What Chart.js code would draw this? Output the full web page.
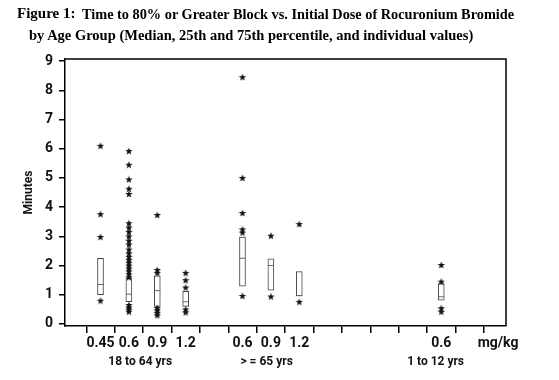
<!DOCTYPE html>
<html>
<head>
<meta charset="utf-8">
<script src="https://cdn.jsdelivr.net/npm/chart.js@4.4.1/dist/chart.umd.min.js"></script>
<style>
  body { margin: 0; background: #fff; }
  #wrap { position: relative; width: 559px; height: 380px; }
  #chart { position: absolute; left: 0; top: 0; }
  .title { position: absolute; font-family: 'Liberation Serif', 'Times New Roman', serif; font-weight: bold; font-size: 14.5px; line-height: 14px; white-space: nowrap; color: #000; }
</style>
</head>
<body>
<div id="wrap">
  <canvas id="chart" width="559" height="380"></canvas>
  <div class="title" style="left:17px; top:6px; font-size:15px;">Figure 1:</div>
  <div class="title" style="left:82px; top:7px; font-size:14.3px;">Time to 80% or Greater Block vs. Initial Dose of Rocuronium Bromide</div>
  <div class="title" style="left:29px; top:28px;">by Age Group (Median, 25th and 75th percentile, and individual values)</div>
</div>
<script>
// x axis: one tick per slot, labels only under the doses
const tickLabels = ['', '0.45', '0.6', '0.9', '1.2', '', '0.6', '0.9', '1.2', '', '', '', '', '0.6', '', 'mg/kg'];
const groupLabels = ['18 to 64 yrs', '> = 65 yrs', '1 to 12 yrs'];
const groupCenters = [2.4, 6.85, 12.8];
const yTicks = [0, 1, 2, 3, 4, 5, 6, 7, 8, 9];

// boxes (25th, median, 75th percentile), minutes
const boxX = [1, 2, 3, 4, 6, 7, 8, 13];
const q1 = [1.0, 0.76, 0.6, 0.6, 1.29, 1.16, 0.96, 0.81];
const median = [1.35, 1.02, 1.14, 0.76, 2.25, 2.0, 0.97, 0.93];
const q3 = [2.25, 1.57, 1.65, 1.12, 2.97, 2.23, 1.79, 1.38];

// individual values shown as stars
const individuals = [
  [6.1, 3.76, 2.98, 0.8],
  [5.92, 5.45, 4.95, 4.63, 4.45, 3.45, 3.3, 3.15, 3.0, 2.85, 2.72, 2.55, 2.42, 2.3, 2.2, 2.1, 2.0, 1.9, 1.8, 1.7, 1.6, 0.65, 0.57, 0.5, 0.42],
  [3.73, 1.85, 1.75, 0.55, 0.47, 0.38, 0.3],
  [1.75, 1.5, 1.25, 0.5, 0.4],
  [8.45, 5.0, 3.8, 3.24, 3.13, 0.96],
  [3.02, 0.94],
  [3.42, 0.76],
  [2.02, 1.45, 0.54, 0.42]
];

// filled five point star used as the point marker
const starImg = document.createElement('canvas');
starImg.width = 8;
starImg.height = 8;
(function() {
    const c = starImg.getContext('2d');
    c.fillStyle = '#111';
    c.beginPath();
    for (let i = 0; i < 10; i++) {
        const r = i % 2 === 0 ? 3.9 : 1.6;
        const a = -Math.PI / 2 + i * Math.PI / 5;
        const px = 4 + r * Math.cos(a);
        const py = 4.3 + r * Math.sin(a);
        if (i === 0) c.moveTo(px, py); else c.lineTo(px, py);
    }
    c.closePath();
    c.fill();
})();

const frame = {
    id: 'frame',
    afterDraw(chart) {
        const { ctx, chartArea: a } = chart;
        ctx.save();
        ctx.strokeStyle = '#000';
        ctx.lineWidth = 1.5;
        ctx.beginPath();
        ctx.moveTo(a.left, a.top);
        ctx.lineTo(a.right, a.top);
        ctx.lineTo(a.right, a.bottom);
        ctx.stroke();
        ctx.restore();
    }
};

Chart.defaults.font.family = "Roboto, 'Liberation Sans', sans-serif";
Chart.defaults.font.weight = 'bold';
Chart.defaults.font.size = 14;
Chart.defaults.color = '#111';

const xMin = -0.25, xMax = 15.28;

new Chart(document.getElementById('chart'), {
    type: 'bar',
    data: {
        datasets: [
            {
                type: 'scatter',
                label: 'Individual',
                data: individuals.flatMap((vals, i) => vals.map(v => ({ x: boxX[i], y: v }))),
                pointStyle: starImg,
                pointRadius: 4,
                order: 1
            },
            {
                type: 'scatter',
                label: 'Median',
                data: boxX.map((x, i) => ({ x: x, y: median[i] })),
                pointStyle: 'line',
                pointRadius: 3,
                borderColor: '#666',
                borderWidth: 1,
                order: 2
            },
            {
                type: 'bar',
                label: 'IQR',
                data: boxX.map((x, i) => ({ x: x, y: [q1[i], q3[i]] })),
                backgroundColor: '#fff',
                borderColor: '#444',
                borderWidth: 1,
                borderSkipped: false,
                barThickness: 6,
                order: 3
            }
        ]
    },
    options: {
        responsive: false,
        animation: false,
        layout: { padding: { left: 22, top: 59, right: 53, bottom: 0 } },
        plugins: {
            legend: { display: false },
            tooltip: { enabled: false }
        },
        scales: {
            x: {
                type: 'linear',
                position: 'bottom',
                offset: false,
                min: xMin,
                max: xMax,
                afterBuildTicks: s => { s.ticks = tickLabels.map((_, i) => ({ value: i })); },
                afterFit: s => { s.height = 24; },
                ticks: {
                    autoSkip: false,
                    maxRotation: 0,
                    padding: 2,
                    callback: v => tickLabels[Math.round(v)]
                },
                grid: { drawOnChartArea: false, tickLength: 7, color: '#000', lineWidth: 1.5 },
                border: { color: '#000', width: 1.5 }
            },
            group: {
                type: 'linear',
                position: 'bottom',
                offset: false,
                min: xMin,
                max: xMax,
                afterBuildTicks: s => { s.ticks = groupCenters.map(v => ({ value: v })); },
                afterFit: s => { s.height = 30; },
                ticks: {
                    autoSkip: false,
                    maxRotation: 0,
                    padding: 5,
                    font: { size: 12 },
                    callback: (v, i) => groupLabels[i]
                },
                grid: { display: false, drawTicks: false },
                border: { display: false }
            },
            y: {
                min: -0.07,
                max: 9.07,
                afterBuildTicks: s => { s.ticks = yTicks.map(v => ({ value: v })); },
                afterFit: s => { s.width = 43; },
                ticks: { padding: 6, callback: v => v },
                grid: { drawOnChartArea: false, tickLength: 6, color: '#000', lineWidth: 1.5 },
                border: { color: '#000', width: 1.5 },
                title: { display: true, text: 'Minutes', font: { size: 12, weight: 'bold' }, padding: 0 }
            }
        }
    },
    plugins: [frame]
});
</script>
</body>
</html>
